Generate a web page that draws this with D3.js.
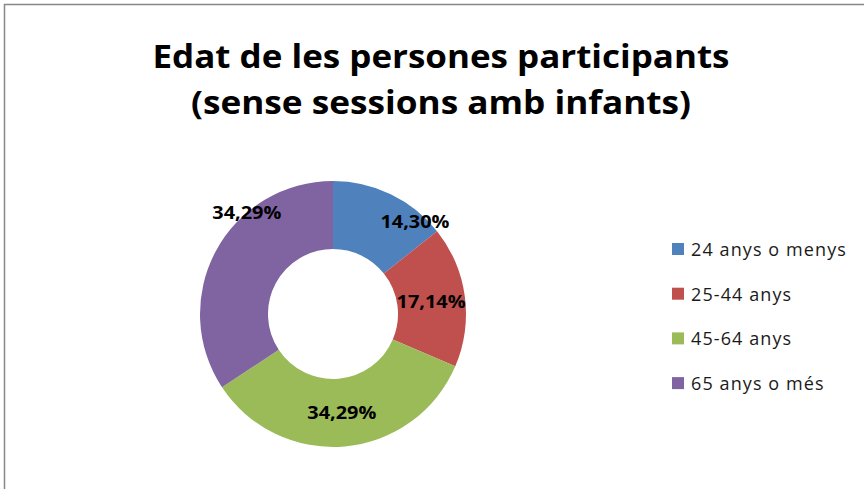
<!DOCTYPE html>
<html>
<head>
<meta charset="utf-8">
<style>
body { margin: 0; background: #fff; }
text { font-family: "Open Sans", "DejaVu Sans", sans-serif; }
.title { font-weight: bold; fill: #000; }
.lbl { font-weight: bold; fill: #000; font-size: 18px; }
.legend text { fill: #1a1a1a; font-size: 18px; letter-spacing: 1.1px; }
</style>
</head>
<body>
<svg width="864" height="489"></svg>
<script src="https://d3js.org/d3.v7.min.js"></script>
<script>

// data
var categories = ["24 anys o menys", "25-44 anys", "45-64 anys", "65 anys o més"];
var values = [14.30, 17.14, 34.29, 34.29];
var labels = ["14,30%", "17,14%", "34,29%", "34,29%"];
var colors = ["#4f81bd", "#c0504d", "#9bbb59", "#8064a2"];
var titleLines = ["Edat de les persones participants", "(sense sessions amb infants)"];

// excel nudges a couple of the data labels away from the centroid
var labelNudge = [[39, -3], [0, 1], [0, 0], [1, -54]];

var svg = d3.select("svg"),
  width = +svg.attr("width"),
  height = +svg.attr("height");

// chart area frame (left + top edges show in the crop)
svg.append("path")
  .attr("d", "M4.5," + height + "V4.5H" + width)
  .attr("fill", "none")
  .attr("stroke", "#888")
  .attr("stroke-width", 1.5);

// title, squeezed a bit to get closer to calibri's proportions
svg.selectAll(".title")
  .data(titleLines)
  .enter().append("text")
    .attr("class", "title")
    .attr("x", 441)
    .attr("y", function(d, i) { return 68 + i * 46; })
    .attr("text-anchor", "middle")
    .attr("font-size", 33)
    .attr("textLength", function(d, i) { return i === 0 ? 577 : 500; })
    .attr("lengthAdjust", "spacingAndGlyphs")
    .text(function(d) { return d; });

var cx = 333, cy = 314, outerR = 133, innerR = 65;

var pie = d3.pie().sort(null).value(function(d) { return d; });
var arc = d3.arc().innerRadius(innerR).outerRadius(outerR);
var mid = d3.arc().innerRadius((innerR + outerR) / 2).outerRadius((innerR + outerR) / 2);

var g = svg.append("g").attr("transform", "translate(" + cx + "," + cy + ")");

var arcs = pie(values);

g.selectAll("path")
  .data(arcs)
  .enter().append("path")
    .attr("d", arc)
    .attr("fill", function(d, i) { return colors[i]; });

g.selectAll(".lbl")
  .data(arcs)
  .enter().append("text")
    .attr("class", "lbl")
    .attr("transform", function(d, i) {
      var c = mid.centroid(d);
      return "translate(" + (c[0] + labelNudge[i][0]) + "," + (c[1] + labelNudge[i][1]) + ")";
    })
    .attr("text-anchor", "middle")
    .attr("dy", "0.35em")
    .attr("textLength", 69)
    .attr("lengthAdjust", "spacingAndGlyphs")
    .text(function(d, i) { return labels[i]; });

// legend
var legend = svg.append("g").attr("class", "legend")
  .selectAll("g")
  .data(categories)
  .enter().append("g")
    .attr("transform", function(d, i) { return "translate(672," + (249 + i * 44.7) + ")"; });

legend.append("rect")
  .attr("x", 0).attr("y", -6)
  .attr("width", 12).attr("height", 12)
  .attr("fill", function(d, i) { return colors[i]; });

legend.append("text")
  .attr("x", 19)
  .attr("y", 7)
  .text(function(d) { return d; });

</script>
</body>
</html>
